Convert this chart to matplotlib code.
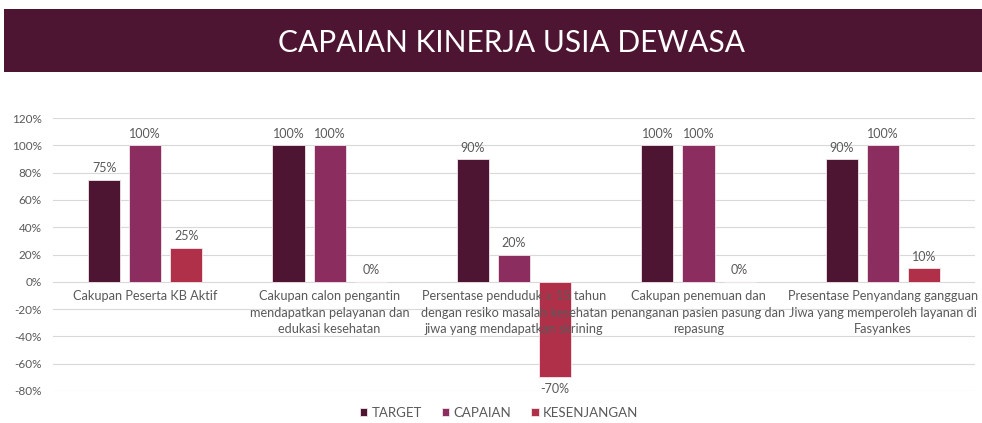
import numpy as np
import matplotlib.pyplot as plt
from matplotlib.patches import Rectangle

plt.rcParams['font.family'] = ['Lato', 'DejaVu Sans']

kategori = ["Cakupan Peserta KB Aktif",
            "Cakupan calon pengantin\nmendapatkan pelayanan dan\nedukasi kesehatan",
            "Persentase penduduk \u2265 15 tahun\ndengan resiko masalah kesehatan\njiwa yang mendapatkan skrining",
            "Cakupan penemuan dan\npenanganan pasien pasung dan\nrepasung",
            "Presentase Penyandang gangguan\nJiwa yang memperoleh layanan di\nFasyankes"]
target = [75, 100, 90, 100, 90]
capaian = [100, 100, 20, 100, 100]
kesenjangan = [25, 0, -70, 0, 10]
seri = ["TARGET", "CAPAIAN", "KESENJANGAN"]
warna = ["#4E1532", "#8B2D5E", "#B0304A"]
abu = "#595959"

fig = plt.figure(figsize=(9.82, 4.23), dpi=100)

# banner judul
fig.patches.append(Rectangle((0.004, 0.830), 0.996, 0.149, transform=fig.transFigure,
                             facecolor="#4E1532", edgecolor="none"))
fig.text(0.521, 0.898, "CAPAIAN KINERJA USIA DEWASA", color="white", fontsize=21.5,
         ha="center", va="center")

ax = fig.add_axes([0.054, 0.0757, 0.939, 0.645])
x = np.arange(len(kategori))
w = 0.174
off = 0.223
for i, (vals, nama) in enumerate(zip([target, capaian, kesenjangan], seri)):
    pos = x + (i - 1) * off
    ax.bar(pos, vals, w, color=warna[i], edgecolor="#f2e6ea", linewidth=0.6,
           label=nama, zorder=2)
    for xp, v in zip(pos, vals):
        if v < 0:
            ax.annotate(f"{v}%", (xp, v), xytext=(0, -4), textcoords="offset points",
                        ha="center", va="top", fontsize=9, color=abu)
        else:
            ax.annotate(f"{v}%", (xp, v), xytext=(0, 4), textcoords="offset points",
                        ha="center", va="bottom", fontsize=9, color=abu)

for xc, lab in zip(x, kategori):
    ax.annotate(lab, (xc, 0), xytext=(0, -6), textcoords="offset points",
                ha="center", va="top", fontsize=9.2, color=abu, linespacing=1.45, zorder=3)

ax.set_xlim(-0.5, len(kategori) - 0.5)
ax.set_ylim(-80, 120)
ax.set_yticks(np.arange(-80, 121, 20))
ax.set_yticklabels([f"{t}%" for t in range(-80, 121, 20)], color=abu, fontsize=8.5)
ax.set_xticks([])
ax.grid(axis="y", color="#D9D9D9", linewidth=0.8, zorder=0)
ax.set_axisbelow(True)
ax.tick_params(axis="y", length=0, pad=8)
for s in ax.spines.values():
    s.set_visible(False)

leg = fig.legend(loc="center", bbox_to_anchor=(0.508, 0.024), ncol=3, frameon=False,
                 fontsize=9.5, handlelength=0.6, handleheight=0.6, handletextpad=0.3,
                 columnspacing=1.5)
for t in leg.get_texts():
    t.set_color(abu)

plt.savefig("out.png", dpi=100)
